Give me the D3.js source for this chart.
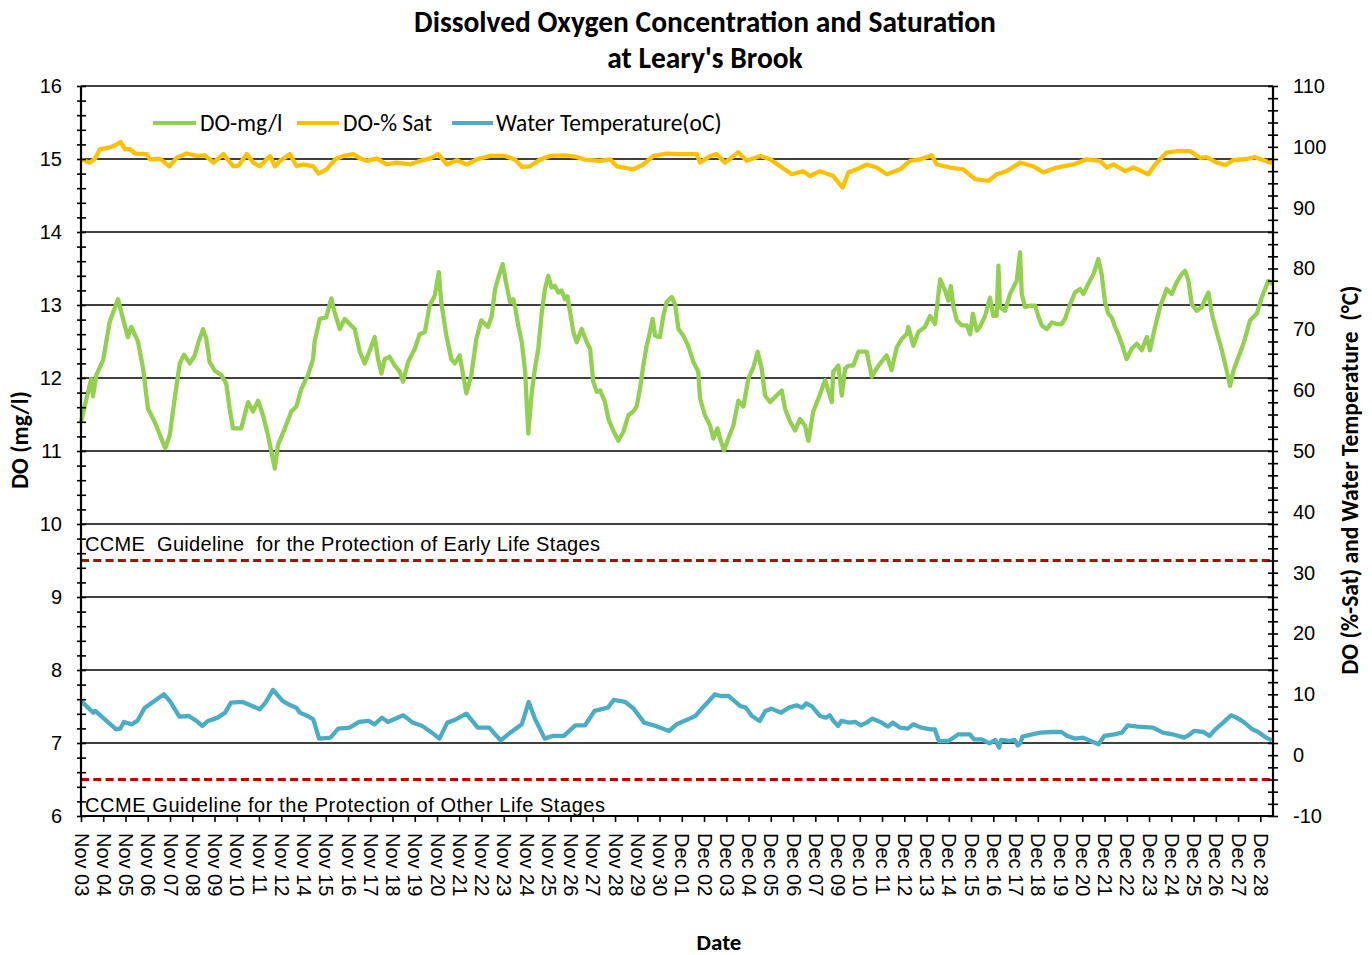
<!DOCTYPE html>
<html><head><meta charset="utf-8">
<script src="https://cdn.jsdelivr.net/npm/d3@7/dist/d3.min.js"></script>
<style>body{margin:0;background:#fff}</style>
</head><body>
<svg id="chart" width="1372" height="955"></svg>
<script>
// ---------------- data ----------------
const xLabels = ["Nov 03","Nov 04","Nov 05","Nov 06","Nov 07","Nov 08","Nov 09","Nov 10","Nov 11","Nov 12",
  "Nov 14","Nov 15","Nov 16","Nov 17","Nov 18","Nov 19","Nov 20","Nov 21","Nov 22","Nov 23","Nov 24","Nov 25",
  "Nov 26","Nov 27","Nov 28","Nov 29","Nov 30","Dec 01","Dec 02","Dec 03","Dec 04","Dec 05","Dec 06","Dec 07",
  "Dec 09","Dec 10","Dec 11","Dec 12","Dec 13","Dec 14","Dec 15","Dec 16","Dec 17","Dec 18","Dec 19","Dec 20",
  "Dec 21","Dec 22","Dec 23","Dec 24","Dec 25","Dec 26","Dec 27","Dec 28"];
const leftTickValues = [6,7,8,9,10,11,12,13,14,15,16];
const rightTickValues = [-10,0,10,20,30,40,50,60,70,80,90,100,110];
const xExtent = [0, 53.57];               // in label units (day index)
const guidelineEarly = 9.5;               // mg/l
const guidelineOther = 6.5;               // mg/l
const seriesNames = ["DO-mg/l","DO-% Sat","Water Temperature(oC)"];

// [day index, DO mg/l]
const doMg = [[0,11.40],[0.46,11.99],[0.54,11.75],[0.69,12.04],[0.99,12.24],[1.29,12.77],[1.66,13.08],[1.89,12.81],
[2.11,12.56],[2.26,12.70],[2.56,12.50],[2.79,12.13],[3.01,11.58],[3.31,11.40],[3.61,11.17],[3.79,11.04],[3.99,11.22],
[4.21,11.72],[4.44,12.20],[4.63,12.32],[4.89,12.20],[5.11,12.31],[5.26,12.47],[5.48,12.67],[5.63,12.54],[5.78,12.22],
[6.01,12.10],[6.31,12.04],[6.53,11.92],[6.68,11.58],[6.83,11.31],[7.20,11.31],[7.51,11.67],[7.73,11.54],[7.96,11.69],
[8.18,11.49],[8.40,11.22],[8.71,10.76],[8.85,11.08],[9.16,11.31],[9.45,11.54],[9.68,11.61],[9.90,11.85],[10.20,12.04],
[10.43,12.26],[10.50,12.50],[10.73,12.81],[11.02,12.83],[11.25,13.09],[11.40,12.90],[11.63,12.67],[11.85,12.81],
[12.08,12.74],[12.30,12.67],[12.53,12.36],[12.75,12.20],[12.98,12.38],[13.20,12.56],[13.35,12.26],[13.50,12.06],
[13.65,12.26],[13.87,12.29],[14.10,12.17],[14.32,12.09],[14.47,11.95],[14.70,12.22],[15.00,12.40],[15.22,12.60],
[15.45,12.63],[15.67,12.99],[15.90,13.13],[16.08,13.45],[16.19,13.04],[16.42,12.58],[16.64,12.26],[16.80,12.20],
[17.02,12.31],[17.32,11.79],[17.54,12.04],[17.77,12.54],[17.99,12.79],[18.29,12.70],[18.46,12.85],[18.61,13.22],
[18.76,13.38],[18.95,13.56],[19.10,13.31],[19.28,13.04],[19.43,13.08],[19.51,12.97],[19.65,12.72],[19.81,12.49],
[19.96,12.09],[20.10,11.24],[20.26,11.81],[20.40,12.13],[20.55,12.40],[20.71,12.90],[20.85,13.22],[21.00,13.40],
[21.15,13.24],[21.30,13.26],[21.45,13.17],[21.60,13.20],[21.75,13.08],[21.86,13.12],[21.98,12.90],[22.13,12.63],
[22.28,12.49],[22.50,12.67],[22.73,12.49],[22.88,12.40],[23.02,11.95],[23.18,11.81],[23.33,11.83],[23.55,11.67],
[23.70,11.44],[23.92,11.28],[24.15,11.14],[24.37,11.26],[24.60,11.49],[24.82,11.54],[24.97,11.61],[25.12,11.85],
[25.27,12.17],[25.42,12.44],[25.57,12.63],[25.69,12.81],[25.80,12.58],[26.02,12.56],[26.17,12.85],[26.32,13.04],
[26.55,13.11],[26.70,13.01],[26.85,12.67],[27.07,12.58],[27.29,12.44],[27.52,12.22],[27.74,12.09],[27.82,11.72],
[28.04,11.49],[28.27,11.35],[28.42,11.17],[28.60,11.31],[28.72,11.17],[28.90,11.01],[29.09,11.17],[29.32,11.35],
[29.54,11.69],[29.77,11.61],[29.99,11.99],[30.22,12.15],[30.41,12.36],[30.59,12.13],[30.74,11.76],[30.97,11.67],
[31.19,11.74],[31.49,11.83],[31.64,11.58],[31.87,11.40],[32.09,11.28],[32.31,11.44],[32.54,11.35],[32.69,11.14],
[32.91,11.54],[33.14,11.72],[33.44,11.97],[33.74,11.67],[33.81,12.09],[34.04,12.17],[34.19,11.76],[34.34,12.13],
[34.49,12.17],[34.71,12.17],[34.94,12.36],[35.31,12.36],[35.54,12.02],[35.84,12.17],[36.21,12.31],[36.43,12.11],
[36.66,12.42],[36.89,12.54],[37.11,12.60],[37.18,12.70],[37.41,12.44],[37.63,12.63],[37.93,12.70],[38.16,12.85],
[38.38,12.74],[38.61,13.35],[38.83,13.20],[38.98,13.06],[39.09,13.26],[39.21,12.97],[39.36,12.79],[39.58,12.72],
[39.81,12.72],[39.96,12.60],[40.08,12.88],[40.26,12.65],[40.40,12.70],[40.63,12.85],[40.85,13.10],[41.00,12.85],
[41.15,12.85],[41.23,13.54],[41.30,12.97],[41.53,12.92],[41.75,13.15],[42.05,13.33],[42.20,13.72],[42.28,13.15],
[42.43,12.97],[42.65,12.99],[42.88,12.99],[43.02,12.85],[43.18,12.72],[43.40,12.67],[43.63,12.76],[43.85,12.74],
[44.08,12.74],[44.22,12.81],[44.45,13.01],[44.67,13.17],[44.90,13.22],[45.05,13.15],[45.27,13.29],[45.50,13.42],
[45.72,13.63],[45.87,13.42],[46.02,13.04],[46.17,12.88],[46.32,12.83],[46.47,12.70],[46.62,12.60],[46.77,12.47],
[46.99,12.26],[47.22,12.40],[47.45,12.47],[47.67,12.38],[47.90,12.56],[48.04,12.38],[48.27,12.70],[48.49,12.97],
[48.79,13.22],[49.02,13.15],[49.24,13.31],[49.46,13.42],[49.62,13.47],[49.77,13.33],[49.92,13.01],[50.14,12.92],
[50.37,12.97],[50.52,13.08],[50.67,13.17],[50.82,12.88],[51.04,12.63],[51.27,12.38],[51.49,12.10],[51.64,11.89],
[51.79,12.10],[52.02,12.29],[52.24,12.47],[52.54,12.79],[52.84,12.88],[53.06,13.10],[53.36,13.33],[53.57,13.29]];

// [day index, DO % saturation]
const doSat = [[0,97.95],[0.40,97.4],[0.63,98.06],[0.85,99.6],[1.30,99.9],[1.60,100.4],[1.78,100.8],[1.98,99.6],
[2.20,99.6],[2.43,98.9],[2.95,98.8],[3.10,97.95],[3.55,98.06],[3.97,96.8],[4.30,98.2],[4.75,98.9],[5.20,98.5],
[5.57,98.6],[5.95,97.4],[6.40,98.8],[6.84,96.8],[7.07,96.9],[7.45,98.8],[7.74,97.4],[8.04,96.8],[8.49,98.5],
[8.72,96.8],[8.94,97.7],[9.39,98.8],[9.69,96.8],[9.99,97.1],[10.44,96.8],[10.67,95.6],[11.04,96.3],[11.42,97.95],
[11.79,98.5],[12.24,98.8],[12.54,98.1],[12.84,97.7],[13.29,98.1],[13.74,97.1],[14.19,97.4],[14.79,97.1],[15.24,97.7],
[15.69,98.1],[16.06,98.8],[16.44,97.1],[16.89,97.8],[17.34,97.1],[17.78,97.95],[18.38,98.5],[19.06,98.5],[19.51,97.9],
[19.82,96.7],[20.18,96.8],[20.63,97.9],[21.08,98.5],[21.75,98.6],[22.20,98.4],[22.65,97.9],[23.33,97.7],[23.78,97.95],
[24.08,96.8],[24.82,96.3],[25.27,97.1],[25.72,98.5],[26.32,98.9],[26.92,98.8],[27.67,98.8],[27.82,97.4],[28.27,98.5],
[28.57,98.8],[28.94,97.4],[29.54,99.1],[29.92,97.7],[30.52,98.5],[30.97,97.95],[31.42,96.8],[31.94,95.5],[32.46,96.0],
[32.76,95.2],[33.21,96.0],[33.81,95.2],[34.23,93.3],[34.49,95.8],[34.86,96.3],[35.31,97.1],[35.76,96.6],[36.21,95.5],
[36.81,96.3],[37.26,97.7],[37.71,97.95],[38.23,98.6],[38.46,97.1],[39.06,96.6],[39.65,96.3],[40.18,94.7],[40.78,94.4],
[41.15,95.5],[41.60,96.0],[42.20,97.4],[42.80,96.8],[43.25,95.8],[43.85,96.6],[44.60,97.1],[45.20,97.95],[45.80,97.7],
[46.10,96.6],[46.40,97.1],[46.92,96.0],[47.30,96.6],[47.67,96.0],[47.97,95.5],[48.27,97.1],[48.79,99.05],[49.24,99.3],
[49.84,99.3],[50.29,98.2],[50.59,98.3],[51.04,97.4],[51.42,97.0],[51.79,97.8],[52.39,98.0],[52.76,98.3],[53.14,97.8],
[53.52,97.3]];

// [day index, water temperature °C]
const waterTemp = [[0,8.91],[0.55,6.99],[0.64,7.27],[0.98,6.17],[1.58,4.25],[1.76,4.36],[1.93,5.46],[2.27,5.07],
[2.53,5.62],[2.87,7.81],[3.30,8.91],[3.73,10.0],[3.99,8.91],[4.42,6.33],[4.85,6.44],[5.19,5.62],[5.45,4.80],[5.71,5.62],
[6.14,6.17],[6.48,6.99],[6.74,8.64],[7.26,8.75],[7.69,8.09],[8.03,7.54],[8.29,8.64],[8.63,10.72],[9.06,8.91],[9.41,8.20],
[9.67,7.81],[9.84,6.99],[10.18,6.44],[10.44,5.90],[10.70,2.72],[11.21,2.88],[11.56,4.36],[12.07,4.53],[12.50,5.46],
[12.93,5.62],[13.19,5.07],[13.53,6.17],[13.79,5.46],[14.48,6.55],[14.91,5.35],[15.34,4.80],[15.77,3.70],[16.11,2.72],
[16.46,5.35],[16.80,5.79],[17.32,6.83],[17.83,4.53],[18.35,4.53],[18.61,3.43],[18.86,2.44],[19.29,3.70],[19.81,5.07],
[20.12,8.75],[20.41,5.90],[20.84,2.72],[21.19,3.16],[21.70,3.16],[22.22,4.91],[22.65,4.91],[23.08,7.27],[23.68,7.81],
[23.94,9.07],[24.45,8.75],[24.80,7.81],[25.31,5.35],[25.83,4.80],[26.43,3.98],[26.77,5.07],[27.35,6.01],[27.61,6.44],
[27.87,7.54],[28.22,8.91],[28.48,10.0],[28.75,9.73],[29.10,9.73],[29.36,8.91],[29.62,8.09],[29.88,7.81],[30.15,6.44],
[30.50,5.62],[30.76,7.27],[31.02,7.65],[31.46,6.99],[31.81,7.81],[32.16,8.20],[32.42,7.81],[32.60,8.53],[32.86,7.98],
[33.21,6.44],[33.47,6.17],[33.65,6.55],[33.82,5.62],[34.03,4.80],[34.17,5.62],[34.52,5.35],[34.79,5.46],[35.05,4.91],
[35.31,5.35],[35.57,6.01],[35.92,5.46],[36.27,4.69],[36.48,5.35],[36.80,4.53],[37.15,4.36],[37.41,5.07],[37.76,4.53],
[38.20,4.25],[38.37,4.25],[38.55,2.33],[38.99,2.33],[39.43,3.43],[39.95,3.43],[40.13,2.61],[40.48,2.61],[40.83,1.95],
[41.09,2.50],[41.26,1.24],[41.35,2.50],[41.70,2.33],[41.96,2.50],[42.10,1.6],[42.23,2.06],[42.31,3.05],[42.75,3.43],
[43.10,3.70],[43.63,3.81],[44.06,3.81],[44.33,3.16],[44.68,2.72],[45.03,2.88],[45.38,2.33],[45.73,1.79],[45.99,3.16],
[46.43,3.43],[46.78,3.70],[47.04,4.91],[47.48,4.69],[48.18,4.53],[48.62,3.70],[49.05,3.43],[49.58,2.88],[49.84,3.43],
[50.02,3.98],[50.45,3.81],[50.72,3.16],[50.98,4.25],[51.33,5.35],[51.68,6.55],[51.94,6.17],[52.29,5.35],[52.64,4.25],
[52.91,3.81],[53.26,2.88],[53.52,2.44]];

// ---------------- layout ----------------
const W = 1372, H = 955;
const L = 81, R = 1273, T = 86, B = 816;
const ARIAL = "'Liberation Sans', Arial, sans-serif";
const CALIBRI = "Carlito, Lato, 'Open Sans', sans-serif";
const GREEN = "#92D050", YELLOW = "#FFC000", BLUE = "#4BACC6", RED = "#C00000";

const svg = d3.select("#chart");
svg.append("rect").attr("width", W).attr("height", H).attr("fill", "#fff");

const x = d3.scaleLinear().domain(xExtent).range([L, R]);
const yL = d3.scaleLinear().domain([6, 16]).range([B, T]);
const yR = d3.scaleLinear().domain([-10, 110]).range([B, T]);

// gridlines
svg.append("g").selectAll("line").data(leftTickValues.filter(v => v > 6)).join("line")
  .attr("x1", L).attr("x2", R).attr("y1", d => yL(d)).attr("y2", d => yL(d))
  .attr("stroke", "#000").attr("stroke-width", 1.4);

// series
const lineFn = (ys) => d3.line().x(d => x(d[0])).y(d => ys(d[1])).curve(d3.curveLinear);
svg.append("path").datum(doMg).attr("d", lineFn(yL))
  .attr("fill", "none").attr("stroke", GREEN).attr("stroke-width", 4.3).attr("stroke-linejoin", "round");
svg.append("path").datum(doSat).attr("d", lineFn(yR))
  .attr("fill", "none").attr("stroke", YELLOW).attr("stroke-width", 4.3).attr("stroke-linejoin", "round");
svg.append("path").datum(waterTemp).attr("d", lineFn(yR))
  .attr("fill", "none").attr("stroke", BLUE).attr("stroke-width", 4.3).attr("stroke-linejoin", "round");

// guideline dashed lines
[guidelineEarly, guidelineOther].forEach(v => {
  svg.append("line").attr("x1", L).attr("x2", R).attr("y1", yL(v)).attr("y2", yL(v))
    .attr("stroke", RED).attr("stroke-width", 3.2).attr("stroke-dasharray", "8,4.3");
});

// guideline labels
svg.append("text").attr("x", 85).attr("y", yL(guidelineEarly) - 10)
  .attr("font-family", ARIAL).attr("font-size", 20).attr("xml:space", "preserve")
  .style("white-space", "pre").attr("textLength", 515).attr("lengthAdjust", "spacing")
  .text("CCME  Guideline  for the Protection of Early Life Stages");
svg.append("text").attr("x", 85).attr("y", yL(6) - 4)
  .attr("font-family", ARIAL).attr("font-size", 20).attr("xml:space", "preserve")
  .style("white-space", "pre").attr("textLength", 520).attr("lengthAdjust", "spacing")
  .text("CCME Guideline for the Protection of Other Life Stages");

// left axis
const leftMinor = d3.range(6, 16.001, 0.2).map(v => +v.toFixed(1));
const gLeft = svg.append("g").attr("transform", `translate(${L},0)`)
  .call(d3.axisLeft(yL).tickValues(leftMinor).tickSize(4).tickPadding(15)
    .tickFormat(d => leftTickValues.includes(d) ? d3.format("d")(d) : ""));
gLeft.selectAll(".tick line").attr("x1", -4).attr("x2", 5).attr("stroke-width", 1.6);
gLeft.select(".domain").attr("stroke-width", 2.2).attr("d", `M0,${T}V${B}`);
gLeft.selectAll("text").attr("font-family", ARIAL).attr("font-size", 20).attr("fill", "#000");

// right axis
const rightMinor = d3.range(-10, 110.001, 2);
const gRight = svg.append("g").attr("transform", `translate(${R},0)`)
  .call(d3.axisRight(yR).tickValues(rightMinor).tickSize(5).tickPadding(15)
    .tickFormat(d => rightTickValues.includes(d) ? String(d) : ""));
gRight.selectAll(".tick line").attr("x1", -5).attr("x2", 5).attr("stroke-width", 1.6);
gRight.select(".domain").attr("stroke-width", 2.2).attr("d", `M0,${T}V${B}`);
gRight.selectAll("text").attr("font-family", ARIAL).attr("font-size", 20).attr("fill", "#000");

// bottom axis
const gBottom = svg.append("g").attr("transform", `translate(0,${B})`)
  .call(d3.axisBottom(x).tickValues(d3.range(xLabels.length)).tickSize(6)
    .tickFormat(i => xLabels[i]));
gBottom.select(".domain").attr("stroke-width", 2.2).attr("d", `M${L},0H${R}`);
gBottom.selectAll(".tick line").attr("stroke-width", 1.6);
gBottom.selectAll("text")
  .attr("font-family", ARIAL).attr("font-size", 20).attr("fill", "#000")
  .attr("transform", "rotate(90)").attr("text-anchor", "start")
  .attr("x", 17).attr("y", 0).attr("dy", "0.35em");

// title
svg.append("text").attr("x", 705).attr("y", 32).attr("text-anchor", "middle")
  .attr("font-family", CALIBRI).attr("font-weight", "bold").attr("font-size", 29.5)
  .text("Dissolved Oxygen Concentration and Saturation");
svg.append("text").attr("x", 705).attr("y", 68).attr("text-anchor", "middle")
  .attr("font-family", CALIBRI).attr("font-weight", "bold").attr("font-size", 29.5)
  .text("at Leary's Brook");

// axis titles
svg.append("text").attr("transform", `translate(28,${(T + B) / 2 - 11}) rotate(-90)`)
  .attr("text-anchor", "middle").attr("font-family", CALIBRI).attr("font-weight", "bold").attr("font-size", 23.5)
  .text("DO (mg/l)");
svg.append("text").attr("transform", `translate(1358,${(T + B) / 2 + 29}) rotate(-90)`)
  .attr("text-anchor", "middle").attr("font-family", CALIBRI).attr("font-weight", "bold").attr("font-size", 23.5)
  .attr("xml:space", "preserve").style("white-space", "pre")
  .text("DO (%-Sat) and Water Temperature  (\u00B0C)");
svg.append("text").attr("x", 719).attr("y", 950).attr("text-anchor", "middle")
  .attr("font-family", CALIBRI).attr("font-weight", "bold").attr("font-size", 23)
  .text("Date");

// legend
const legendItems = [
  {name: seriesNames[0], color: GREEN, x1: 153, x2: 196, tx: 200},
  {name: seriesNames[1], color: YELLOW, x1: 297, x2: 339, tx: 343},
  {name: seriesNames[2], color: BLUE, x1: 452, x2: 493, tx: 496}
];
const gLeg = svg.append("g");
legendItems.forEach(it => {
  gLeg.append("line").attr("x1", it.x1).attr("x2", it.x2).attr("y1", 123).attr("y2", 123)
    .attr("stroke", it.color).attr("stroke-width", 4);
  gLeg.append("text").attr("x", it.tx).attr("y", 123).attr("dy", "0.35em")
    .attr("font-family", CALIBRI).attr("font-size", 23.5).attr("fill", "#000").text(it.name);
});
</script>
</body></html>
